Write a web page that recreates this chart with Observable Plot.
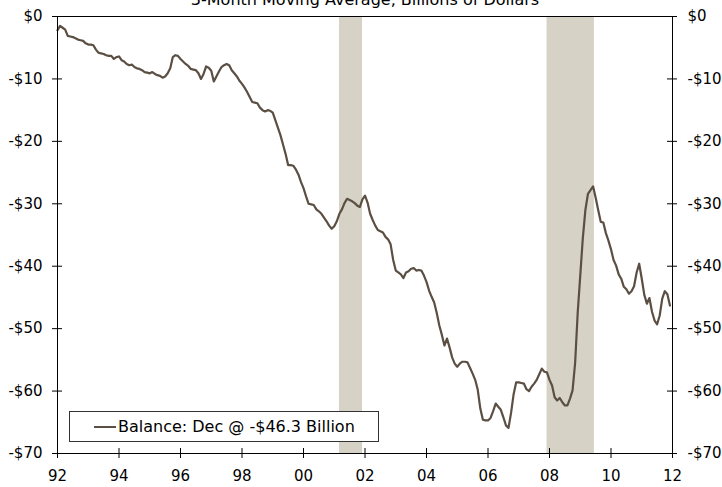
<!DOCTYPE html>
<html>
<head>
<meta charset="utf-8">
<script src="https://cdn.jsdelivr.net/npm/d3@7"></script>
<script src="https://cdn.jsdelivr.net/npm/@observablehq/plot@0.6"></script>
<style>
  html, body { margin: 0; padding: 0; background: #fff; overflow: hidden; }
  #wrap { position: relative; width: 722px; height: 487px; font-family: "DejaVu Sans", Verdana, sans-serif; }
  #title { position: absolute; left: 0; top: -9px; width: 730px; text-align: center; font-size: 16px; line-height: 18px; color: #000; white-space: nowrap; }
  #legend { position: absolute; left: 69px; top: 411px; width: 308px; height: 29px; border: 1px solid #333; background: #fff; display: flex; align-items: center; font-size: 16px; color: #000; }
  #legend .sw { display: inline-block; width: 22px; height: 2px; background: #5b4e42; margin-left: 24px; margin-right: 2px; }
</style>
</head>
<body>
<div id="wrap">
  <div id="chart"></div>
  <div id="title"></div>
  <div id="legend"><span class="sw"></span><span id="legtext"></span></div>
</div>
<script>
const titleText = "3-Month Moving Average, Billions of Dollars";
const legendText = "Balance: Dec @ -$46.3 Billion";
const startYear = 1992;
// monthly 3-month moving average trade balance, Jan 1992 - Dec 2011 (billions USD)
const balance = [
  -2.2, -1.5, -1.8, -2.1, -3.1, -3.2, -3.3, -3.5, -3.7, -3.8, -3.9, -4.3,   // 1992
  -4.5, -4.5, -4.6, -5.3, -5.8, -5.9, -6.0, -6.2, -6.3, -6.3, -6.8, -6.5,   // 1993
  -6.4, -7.0, -7.2, -7.6, -7.8, -7.7, -8.1, -8.3, -8.4, -8.6, -8.9, -9.0,   // 1994
  -9.1, -8.9, -9.2, -9.4, -9.5, -9.8, -9.6, -9.1, -8.3, -6.5, -6.2, -6.3,   // 1995
  -6.8, -7.2, -7.6, -7.9, -8.4, -8.5, -8.6, -9.1, -10.0, -9.2, -8.0, -8.2,  // 1996
  -8.7, -10.4, -9.6, -8.8, -8.1, -7.8, -7.6, -7.8, -8.6, -9.1, -9.6, -10.3, // 1997
  -10.8, -11.4, -12.1, -12.9, -13.7, -13.8, -13.9, -14.6, -15.0, -15.2, -15.0, -15.1, // 1998
  -15.4, -16.6, -17.8, -19.0, -20.5, -22.0, -23.8, -23.8, -23.9, -24.5, -25.3, -26.5, // 1999
  -27.5, -28.8, -30.0, -30.1, -30.2, -30.9, -31.2, -31.6, -32.2, -32.8, -33.5, -34.0, // 2000
  -33.6, -32.8, -31.6, -30.9, -29.9, -29.2, -29.4, -29.6, -29.9, -30.3, -30.5, -29.3, // 2001
  -28.7, -29.8, -31.6, -32.6, -33.5, -34.2, -34.4, -34.6, -35.3, -35.7, -36.5, -39.0, // 2002
  -40.7, -41.0, -41.3, -41.9, -41.0, -40.8, -40.4, -40.3, -40.7, -40.6, -40.7, -41.5, // 2003
  -42.5, -43.9, -44.9, -45.8, -47.5, -49.5, -51.0, -52.7, -51.6, -53.0, -54.6, -55.6, // 2004
  -56.1, -55.6, -55.3, -55.3, -55.4, -56.3, -57.2, -58.2, -59.8, -62.8, -64.6, -64.7, // 2005
  -64.7, -64.3, -63.2, -62.0, -62.5, -63.0, -64.2, -65.5, -65.9, -63.5, -60.5, -58.6, // 2006
  -58.6, -58.7, -58.8, -59.7, -60.0, -59.3, -58.8, -58.2, -57.3, -56.4, -56.9, -57.0, // 2007
  -58.2, -59.1, -61.0, -61.5, -61.1, -61.8, -62.3, -62.3, -61.2, -59.9, -55.5, -47.5, // 2008
  -41.5, -35.5, -31.0, -28.4, -27.8, -27.2, -29.0, -31.0, -32.9, -33.0, -34.7, -35.9, // 2009
  -37.3, -39.0, -39.9, -41.3, -42.0, -43.3, -43.7, -44.4, -44.0, -43.2, -41.0, -39.6, // 2010
  -42.0, -44.6, -46.0, -45.1, -47.3, -48.7, -49.3, -47.9, -45.2, -44.0, -44.5, -46.3  // 2011
];
const recessionStart = [2001.17, 2007.92];
const recessionEnd = [2001.92, 2009.46];
const xTicks = [1992, 1994, 1996, 1998, 2000, 2002, 2004, 2006, 2008, 2010, 2012];
const yTicks = [0, -10, -20, -30, -40, -50, -60, -70];

const series = balance.map((v, i) => ({t: startYear + i / 12, v}));
const recessions = recessionStart.map((s, i) => ({x1: s, x2: recessionEnd[i]}));
const yFmt = d => d === 0 ? "$0" : "-$" + Math.abs(d);
const xFmt = d => String(d % 100).padStart(2, "0");
const xMin = xTicks[0], xMax = xTicks[xTicks.length - 1];
const yMin = yTicks[yTicks.length - 1], yMax = yTicks[0];

document.getElementById("title").textContent = titleText;
document.getElementById("legtext").textContent = legendText;

const plot = Plot.plot({
  width: 722,
  height: 487,
  marginTop: 16,
  marginBottom: 34,
  marginLeft: 57,
  marginRight: 50,
  style: {fontFamily: "'DejaVu Sans', Verdana, sans-serif", fontSize: "15px", color: "#000", background: "#fff", overflow: "visible"},
  x: {domain: [xMin, xMax], axis: null},
  y: {domain: [yMin, yMax], axis: null},
  marks: [
    Plot.rect(recessions, {x1: "x1", x2: "x2", fill: "#d6d2c6"}),
    Plot.line(series, {x: "t", y: "v", stroke: "#5b4e42", strokeWidth: 2.2}),
    Plot.frame({stroke: "#000", strokeWidth: 1}),
    // y ticks crossing both vertical axes
    Plot.ruleY(yTicks, {y: d => d, x1: () => xMin, x2: () => xMin, insetLeft: -5, insetRight: -5, stroke: "#000"}),
    Plot.ruleY(yTicks, {y: d => d, x1: () => xMax, x2: () => xMax, insetLeft: -5, insetRight: -5, stroke: "#000"}),
    Plot.text(yTicks, {y: d => d, x: () => xMin, text: yFmt, textAnchor: "end", dx: -15, fill: "#000", fontSize: 15}),
    Plot.text(yTicks, {y: d => d, x: () => xMax, text: yFmt, textAnchor: "start", dx: 15, fill: "#000", fontSize: 15}),
    // x ticks crossing the bottom axis
    Plot.ruleX(xTicks, {x: d => d, y1: () => yMin, y2: () => yMin, insetTop: -5, insetBottom: -5, stroke: "#000"}),
    Plot.text(xTicks, {x: d => d, y: () => yMin, text: xFmt, dy: 23, fill: "#000", fontSize: 15})
  ]
});
document.getElementById("chart").appendChild(plot);
</script>
</body>
</html>
